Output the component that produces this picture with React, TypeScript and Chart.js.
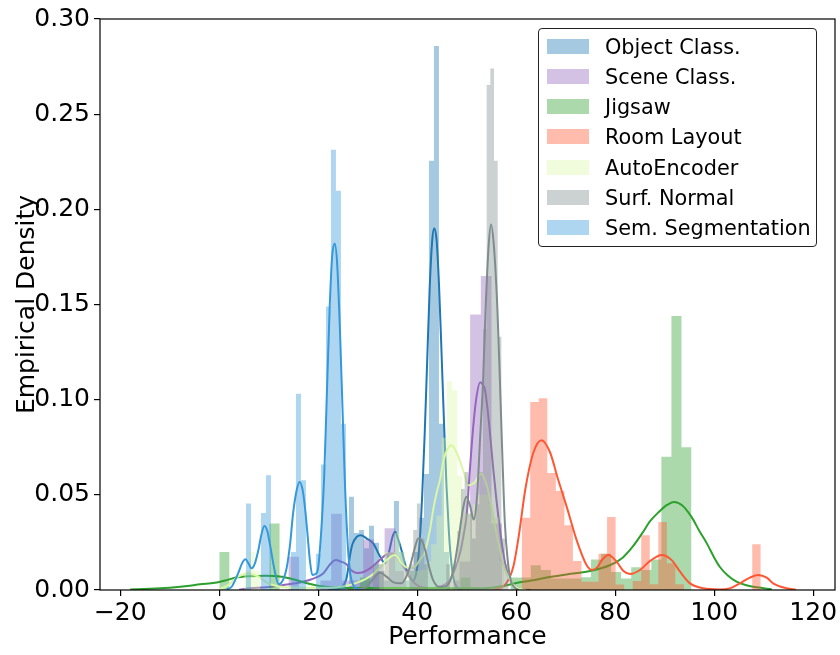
import React, { useEffect, useRef } from 'react';
import { Chart, registerables } from 'chart.js';

Chart.register(...registerables);

const FONT = 'DejaVu Sans';

// ---- axes ----
const X_MIN = -24.1;
const X_MAX = 124.4;
const Y_MIN = 0;
const Y_MAX = 0.3;
const xTicks = [-20, 0, 20, 40, 60, 80, 100, 120];
const yTicks = [0, 0.05, 0.1, 0.15, 0.2, 0.25, 0.3];
const xTitle = 'Performance';
const yTitle = 'Empirical Density';

// ---- series ----
const seriesNames = [
  'Object Class.',
  'Scene Class.',
  'Jigsaw',
  'Room Layout',
  'AutoEncoder',
  'Surf. Normal',
  'Sem. Segmentation',
];
const seriesColors = ['#1f77b4', '#9467bd', '#2ca02c', '#ff5733', '#daf7a6', '#7f8c8d', '#3498db'];

// Object Class.
const objBinStart = 26.2;
const objBinWidth = 1.01;
const objHeights = [0.049, 0.03, 0.0315, 0.022, 0.0337, 0.0248, 0.01, 0.005, 0.02, 0.0468, 0.02, 0.005, 0.01, 0.02, 0.038, 0.061, 0.2255, 0.2858, 0.0874, 0.02];
const objKdeX = [22, 24, 25.1, 25.7, 26.4, 26.9, 27.8, 28.6, 29.8, 31.1, 32.4, 33.5, 34.3, 35.0, 35.5, 36.1, 36.8, 37.5, 38.2, 39.2, 40.0, 40.5, 41.0, 41.5, 42.0, 42.5, 43.0, 43.4, 43.9, 44.4, 44.9, 45.4, 45.9, 46.4, 46.9, 47.4, 48.0, 49.0];
const objKdeY = [0, 0.0004, 0.0026, 0.006, 0.018, 0.024, 0.028, 0.0288, 0.027, 0.0245, 0.018, 0.014, 0.02, 0.028, 0.0306, 0.027, 0.021, 0.014, 0.0079, 0.005, 0.012, 0.026, 0.05, 0.082, 0.12, 0.158, 0.183, 0.19, 0.184, 0.16, 0.125, 0.088, 0.055, 0.03, 0.014, 0.005, 0.0015, 0];

// Scene Class.
const sceneBinStart = 13.96;
const sceneBinWidth = 2.16;
const sceneHeights = [0.0175, 0, 0, 0.005, 0.04, 0.005, 0.005, 0.0265, 0.01, 0.0325, 0.01, 0, 0, 0, 0, 0.005, 0.015, 0.1447, 0.165, 0.035];
const sceneKdeX = [4, 6.2, 9.5, 12.9, 16.0, 18.5, 21.0, 22.4, 23.5, 24.5, 25.7, 26.6, 27.8, 29.0, 30.4, 31.5, 32.5, 33.5, 34.5, 35.5, 36.3, 37.2, 38.1, 38.9, 40.0, 41.0, 42.6, 44.2, 45.5, 46.6, 47.6, 48.6, 49.3, 50.0, 50.6, 51.3, 52.0, 52.7, 53.2, 53.7, 54.2, 54.7, 55.3, 56.0, 56.7, 57.4, 58.0, 58.7, 59.4, 60.1, 61.5, 63];
const sceneKdeY = [0.0002, 0.0009, 0.0015, 0.0026, 0.0038, 0.0055, 0.0087, 0.0135, 0.0157, 0.015, 0.0135, 0.0105, 0.0089, 0.0093, 0.0112, 0.0135, 0.016, 0.0182, 0.0192, 0.0186, 0.0155, 0.0122, 0.0085, 0.0052, 0.0025, 0.0014, 0.0009, 0.0014, 0.0028, 0.0052, 0.011, 0.019, 0.028, 0.04, 0.062, 0.0856, 0.102, 0.1092, 0.108, 0.1049, 0.095, 0.0822, 0.065, 0.0472, 0.032, 0.0192, 0.011, 0.0052, 0.0025, 0.0014, 0.0003, 0];

// Jigsaw
const jigBinStart = 0;
const jigBinWidth = 2.03;
const jigHeights = [0.02, 0, 0, 0, 0, 0.035, 0, 0, 0, 0, 0, 0, 0, 0, 0.0066, 0, 0, 0, 0, 0, 0, 0, 0, 0, 0.0066, 0, 0, 0, 0, 0.0066, 0.0066, 0.013, 0.0105, 0.006, 0.006, 0.006, 0.0067, 0.016, 0.019, 0.0094, 0.006, 0.012, 0.0105, 0.016, 0.07, 0.144, 0.075];
const jigKdeX = [-18, -14, -10, -6, -3.9, -0.9, 1.5, 3.2, 6, 9.2, 12.6, 15, 17.3, 19.5, 21.4, 24, 28, 33, 38, 43, 48, 52, 55, 56.7, 58.5, 60, 63, 66.8, 71, 74.9, 78.9, 81.5, 83.6, 85.5, 87.0, 88.8, 90.4, 91.9, 93.5, 95.4, 97, 98.5, 100, 101.1, 102.8, 104.5, 106.5, 108.6, 111.6];
const jigKdeY = [0.0003, 0.0006, 0.0012, 0.0022, 0.003, 0.0038, 0.0052, 0.0064, 0.0072, 0.0075, 0.007, 0.0056, 0.0038, 0.0025, 0.0017, 0.0012, 0.001, 0.001, 0.001, 0.001, 0.0009, 0.0009, 0.0012, 0.0018, 0.0028, 0.0037, 0.005, 0.0068, 0.0085, 0.01, 0.013, 0.017, 0.023, 0.03, 0.036, 0.041, 0.0446, 0.0463, 0.0445, 0.0384, 0.031, 0.0245, 0.017, 0.0122, 0.0075, 0.0044, 0.0025, 0.0014, 0.0004];

// Room Layout
const roomBinStart = 61.1;
const roomBinWidth = 1.725;
const roomHeights = [0.038, 0.0988, 0.1008, 0.0615, 0.052, 0.034, 0.0152, 0.0044, 0.0044, 0.019, 0.0383, 0.0029, 0, 0.0047, 0.0288, 0.003, 0.0357, 0.014, 0.003, 0, 0, 0, 0, 0, 0, 0, 0, 0.024];
const roomKdeX = [55.5, 57.7, 59.4, 60.6, 61.8, 63.4, 65.1, 66.8, 68.5, 70.2, 72.2, 74.2, 75.3, 76.4, 77.3, 78.6, 80.3, 81.6, 83.0, 85.0, 87.0, 89.4, 91.4, 93.1, 95.1, 97.8, 101, 103.3, 105.2, 107.2, 108.9, 110.6, 111.9, 114.6, 116.5];
const roomKdeY = [0.0003, 0.0026, 0.0122, 0.03, 0.0524, 0.0717, 0.0787, 0.0725, 0.0577, 0.0437, 0.0262, 0.0131, 0.0105, 0.012, 0.0157, 0.0184, 0.0148, 0.0101, 0.0084, 0.0105, 0.0152, 0.0184, 0.0157, 0.0096, 0.0035, 0.0009, 0.0003, 0.001, 0.0035, 0.0065, 0.0079, 0.0065, 0.0035, 0.0009, 0.0002];

// AutoEncoder
const aeBinStart = 5.03;
const aeBinWidth = 1.05;
const aeHeights = [0.01, 0.02, 0.01, 0, 0, 0, 0, 0, 0, 0, 0, 0, 0, 0, 0, 0, 0, 0, 0, 0, 0, 0, 0, 0, 0, 0, 0.01, 0.02, 0.02, 0.03, 0.02, 0.01, 0.01, 0.01, 0.0105, 0.015, 0.024, 0.039, 0.08, 0.1096, 0.105, 0.06, 0.04, 0.04, 0.045, 0.05, 0.05, 0.045, 0.038, 0.015];
const aeKdeX = [0, 1.8, 3.8, 5.9, 7.9, 9.9, 12.6, 16, 20, 24, 26.4, 28.5, 30.4, 32.2, 33.8, 35.5, 36.8, 38.5, 39.6, 40.5, 41.5, 42.6, 43.2, 44.0, 44.6, 45.3, 46.1, 47.0, 47.8, 48.6, 49.5, 50.3, 51.0, 51.7, 52.4, 53.0, 53.6, 54.3, 55.0, 55.7, 56.4, 57.0, 57.7, 58.4, 59.3, 60.5, 62];
const aeKdeY = [0.0004, 0.0026, 0.007, 0.0087, 0.007, 0.0035, 0.0017, 0.0012, 0.0012, 0.0015, 0.0026, 0.0045, 0.007, 0.011, 0.0157, 0.0184, 0.014, 0.0114, 0.0125, 0.0157, 0.02, 0.032, 0.042, 0.052, 0.058, 0.068, 0.074, 0.076, 0.073, 0.068, 0.061, 0.055, 0.0555, 0.0568, 0.06, 0.0612, 0.058, 0.0524, 0.043, 0.0332, 0.025, 0.0175, 0.011, 0.007, 0.003, 0.0008, 0];

// Surf. Normal
const surfBinStart = 31.02;
const surfBinWidth = 0.742;
const surfHeights = [0.0135, 0.0135, 0.0135, 0, 0, 0, 0, 0, 0, 0, 0.0135, 0.0315, 0.0455, 0.027, 0.0135, 0, 0, 0, 0, 0, 0.0135, 0, 0.0135, 0.031, 0.053, 0.062, 0.04, 0.027, 0.045, 0.062, 0.137, 0.2653, 0.274, 0.2255, 0.133, 0.027, 0.0135];
const surfKdeX = [26, 28, 29.8, 31, 32.5, 33.8, 35.2, 36.8, 37.8, 38.5, 39.4, 40.2, 40.9, 41.6, 42.4, 43.2, 44.4, 45.5, 46.6, 47.5, 48.3, 49.2, 49.9, 50.7, 51.4, 52.1, 52.7, 53.3, 53.8, 54.4, 54.9, 55.5, 56.2, 56.7, 57.2, 57.7, 58.3, 58.9, 59.6, 60.5];
const surfKdeY = [0, 0.0005, 0.0017, 0.0055, 0.009, 0.007, 0.004, 0.0035, 0.007, 0.012, 0.021, 0.027, 0.026, 0.021, 0.012, 0.0052, 0.0017, 0.0018, 0.0045, 0.013, 0.026, 0.042, 0.049, 0.044, 0.037, 0.05, 0.08, 0.11, 0.147, 0.18, 0.192, 0.18, 0.147, 0.11, 0.07, 0.035, 0.015, 0.005, 0.0015, 0];

// Sem. Segmentation
const semBinStart = 5.39;
const semBinWidth = 1.01;
const semHeights = [0.0455, 0, 0, 0.0405, 0.0603, 0, 0, 0, 0, 0.02, 0.1031, 0.0577, 0, 0, 0.019, 0.066, 0.149, 0.2313, 0.2097, 0.0874];
const semKdeX = [1.5, 2.5, 3.8, 4.6, 5.3, 5.9, 6.5, 7.2, 7.9, 8.5, 9.1, 9.7, 10.2, 11.3, 12.0, 13.0, 13.6, 14.3, 14.9, 15.6, 16.2, 16.8, 17.3, 17.8, 18.3, 18.8, 19.5, 20.0, 20.7, 21.2, 21.7, 22.3, 22.8, 23.3, 23.8, 24.4, 24.9, 25.4, 26.0, 26.5, 27.2, 28.5];
const semKdeY = [0.0003, 0.0017, 0.0087, 0.014, 0.0161, 0.014, 0.0114, 0.014, 0.021, 0.029, 0.0336, 0.031, 0.0245, 0.0087, 0.003, 0.006, 0.0114, 0.024, 0.04, 0.052, 0.0568, 0.053, 0.0437, 0.03, 0.0157, 0.0079, 0.0085, 0.0122, 0.035, 0.06, 0.1, 0.148, 0.175, 0.182, 0.172, 0.135, 0.095, 0.055, 0.022, 0.008, 0.002, 0];

const histStarts = [objBinStart, sceneBinStart, jigBinStart, roomBinStart, aeBinStart, surfBinStart, semBinStart];
const histWidths = [objBinWidth, sceneBinWidth, jigBinWidth, roomBinWidth, aeBinWidth, surfBinWidth, semBinWidth];
const histHeights = [objHeights, sceneHeights, jigHeights, roomHeights, aeHeights, surfHeights, semHeights];
const kdeXs = [objKdeX, sceneKdeX, jigKdeX, roomKdeX, aeKdeX, surfKdeX, semKdeX];
const kdeYs = [objKdeY, sceneKdeY, jigKdeY, roomKdeY, aeKdeY, surfKdeY, semKdeY];

function rgba(hex: string, a: number) {
  const n = parseInt(hex.slice(1), 16);
  return `rgba(${(n >> 16) & 255},${(n >> 8) & 255},${n & 255},${a})`;
}

function histPoints(start: number, width: number, heights: number[]) {
  const pts = heights.map((h, i) => ({ x: start + i * width, y: h }));
  pts.push({ x: start + heights.length * width, y: heights[heights.length - 1] });
  return pts;
}

function fmtX(v: number) {
  return v < 0 ? '\u2212' + Math.abs(v) : String(v);
}

const framePlugin = {
  id: 'frame',
  afterDatasetsDraw(chart: any) {
    const { ctx, chartArea: a } = chart;
    ctx.save();
    ctx.strokeStyle = '#000';
    ctx.lineWidth = 1.2;
    ctx.strokeRect(a.left, a.top, a.right - a.left, a.bottom - a.top);
    ctx.restore();
  },
};

export default function App() {
  const ref = useRef<HTMLCanvasElement | null>(null);

  useEffect(() => {
    if (!ref.current) return;
    const datasets: any[] = [];
    seriesNames.forEach((name, i) => {
      datasets.push({
        label: name,
        data: histPoints(histStarts[i], histWidths[i], histHeights[i]),
        stepped: 'before',
        borderWidth: 0,
        borderColor: 'rgba(0,0,0,0)',
        backgroundColor: rgba(seriesColors[i], 0.4),
        fill: 'origin',
        pointRadius: 0,
      });
      datasets.push({
        label: name + ' kde',
        data: kdeXs[i].map((x, j) => ({ x, y: kdeYs[i][j] })),
        borderColor: seriesColors[i],
        borderWidth: 2,
        fill: false,
        pointRadius: 0,
        cubicInterpolationMode: 'monotone',
      });
    });
    datasets.forEach((d, k) => (d.order = 100 - k));

    const tickFont = { family: FONT, size: 25 };
    const chart = new Chart(ref.current, {
      type: 'line',
      data: { datasets },
      options: {
        responsive: false,
        animation: false,
        events: [],
        layout: { padding: { left: 0, right: 5, top: 18, bottom: 0 } },
        plugins: { legend: { display: false }, tooltip: { enabled: false } },
        scales: {
          x: {
            type: 'linear',
            min: X_MIN,
            max: X_MAX,
            afterBuildTicks: (s: any) => {
              s.ticks = xTicks.map((v) => ({ value: v }));
            },
            afterFit: (s: any) => {
              s.height = 65;
            },
            grid: { display: true, drawOnChartArea: false, drawTicks: true, tickLength: 6, color: '#000', lineWidth: 1.2 },
            border: { display: false },
            ticks: { font: tickFont, color: '#000', padding: 2, maxRotation: 0, autoSkip: false, callback: (v: any) => fmtX(Number(v)) },
            title: { display: true, text: xTitle, font: tickFont, color: '#000', padding: { top: 0, bottom: 3 } },
          },
          y: {
            type: 'linear',
            min: Y_MIN,
            max: Y_MAX,
            afterBuildTicks: (s: any) => {
              s.ticks = yTicks.map((v) => ({ value: v }));
            },
            afterFit: (s: any) => {
              s.width = 100;
            },
            grid: { display: true, drawOnChartArea: false, drawTicks: true, tickLength: 6, color: '#000', lineWidth: 1.2 },
            border: { display: false },
            ticks: { font: tickFont, color: '#000', padding: 4, autoSkip: false, callback: (v: any) => Number(v).toFixed(2) },
            title: { display: true, text: yTitle, font: tickFont, color: '#000', padding: { top: 12, bottom: 0 } },
          },
        },
      },
      plugins: [framePlugin],
    } as any);
    return () => chart.destroy();
  }, []);

  return (
    <div style={{ position: 'fixed', left: 0, top: 0, width: 840, height: 655, background: '#fff' }}>
      <canvas ref={ref} width={840} height={655} style={{ width: 840, height: 655, display: 'block' }} />
      <div
        style={{
          position: 'absolute',
          left: 538,
          top: 28,
          width: 279,
          height: 219,
          boxSizing: 'border-box',
          border: '1px solid #222',
          borderRadius: 4,
          background: 'rgba(255,255,255,0.8)',
          fontFamily: FONT,
          fontSize: 20.8,
          color: '#000',
        }}
      >
        {seriesNames.map((name, i) => (
          <div key={name} style={{ position: 'absolute', left: 0, top: 9.5 + i * 30.3, height: 16, width: '100%' }}>
            <div style={{ position: 'absolute', left: 8, top: 0, width: 42, height: 15, background: rgba(seriesColors[i], 0.4) }} />
            <div style={{ position: 'absolute', left: 66, top: -7, lineHeight: '30px', whiteSpace: 'nowrap' }}>{name}</div>
          </div>
        ))}
      </div>
    </div>
  );
}
